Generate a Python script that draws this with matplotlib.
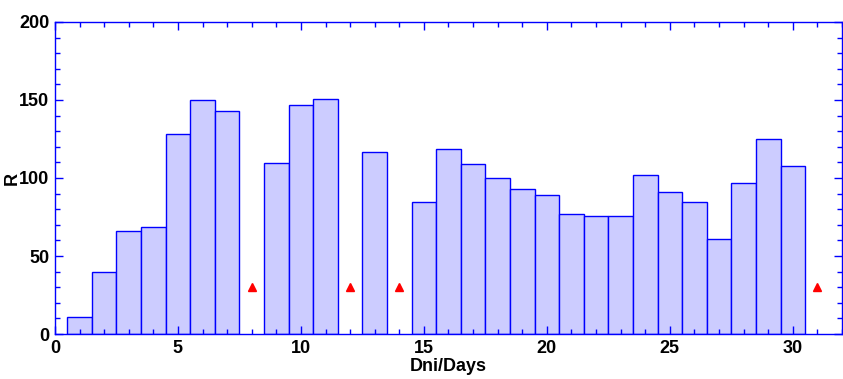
import numpy as np
import matplotlib.pyplot as plt
from matplotlib.ticker import MultipleLocator

plt.rcParams['font.family'] = ['Liberation Sans', 'DejaVu Sans']
plt.rcParams['font.weight'] = 'bold'

# daily values, days without data are marked separately
days = [1, 2, 3, 4, 5, 6, 7, 9, 10, 11, 13, 15, 16, 17, 18, 19, 20,
        21, 22, 23, 24, 25, 26, 27, 28, 29, 30]
r_values = [11, 40, 66, 68.5, 128, 150, 143, 109.5, 147, 150.5, 116.5, 84.5, 118.5, 109,
            100, 93, 89, 77, 75.5, 75.5, 102, 91, 84.5, 61, 97, 125, 107.5]
missing_days = [8, 12, 14, 31]
missing_level = [30, 30, 30, 30]

blue = '#0000ff'

fig = plt.figure(figsize=(8.43, 3.79), dpi=100)
ax = fig.add_axes([0.0652, 0.1187, 0.9336, 0.8233])

ax.bar(days, r_values, width=1.0, color='#ccccff', edgecolor=blue, linewidth=1.0)
ax.plot(missing_days, missing_level, linestyle='none', marker='^', color='red',
        markersize=6)

ax.set_xlim(0, 32)
ax.set_ylim(0, 200)
ax.xaxis.set_major_locator(MultipleLocator(5))
ax.xaxis.set_minor_locator(MultipleLocator(1))
ax.yaxis.set_major_locator(MultipleLocator(50))
ax.yaxis.set_minor_locator(MultipleLocator(10))

for s in ax.spines.values():
    s.set_color(blue)
    s.set_linewidth(1.0)

ax.tick_params(which='both', direction='in', top=True, right=True, color=blue,
               labelsize=13, width=1.0)
ax.tick_params(which='major', length=6, pad=4)
ax.tick_params(which='minor', length=3.5)
for lab in ax.get_xticklabels() + ax.get_yticklabels():
    lab.set_fontweight('bold')

ax.set_xlabel('Dni/Days', fontsize=13, fontweight='bold', labelpad=1)
ax.set_ylabel('R', fontsize=13, fontweight='bold')
ax.yaxis.set_label_coords(-0.044, 0.5)

fig.savefig('out.png', dpi=100)
